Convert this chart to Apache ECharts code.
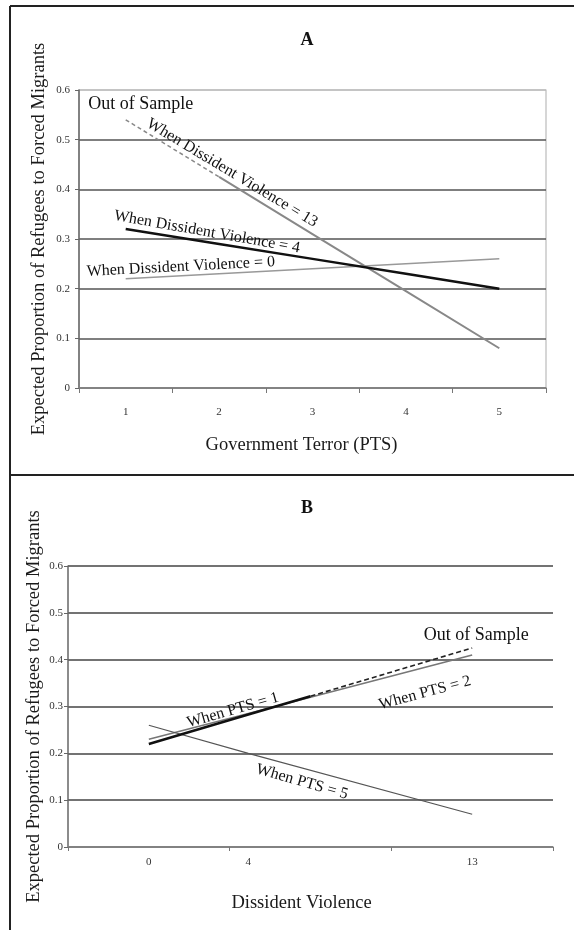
<!DOCTYPE html>
<html>
<head>
<meta charset="utf-8">
<script src="https://cdn.jsdelivr.net/npm/echarts@6/dist/echarts.min.js"></script>
<style>
html,body{margin:0;padding:0;background:#fff;}
#c{width:574px;height:930px;}
</style>
</head>
<body>
<div id="c"></div>
<script>
// ---------- Panel A data ----------
const ptsCats = [1, 2, 3, 4, 5];
const dv13 = [0.54, 0.425, 0.31, 0.195, 0.08];
const dv4  = [0.32, 0.29, 0.26, 0.23, 0.20];
const dv0  = [0.22, 0.23, 0.24, 0.25, 0.26];
const dv13InSampleFromIndex = 1; // out of sample for PTS 1 -> 2
const yTicks = [0, 0.1, 0.2, 0.3, 0.4, 0.5, 0.6];

// ---------- Panel B data ----------
const dvCats = [0, 4, 13];
const pts1InSample = [[0, 0.22], [4, 0.283], [6.5, 0.322]];
const pts1OutSample = [[6.5, 0.322], [13, 0.425]];
const pts2 = [0.23, 0.285, 0.41];
const pts5 = [0.26, 0.20, 0.07];

// annotation anchors (data coords)
const labelsA = [
  {text: 'When Dissident Violence = 13', x: 2.14, y: 0.433, rot: -31},
  {text: 'When Dissident Violence = 4', x: 1.87, y: 0.314, rot: -10},
  {text: 'When Dissident Violence = 0', x: 1.59, y: 0.244, rot: 3},
  {text: 'Out of Sample', x: 1.16, y: 0.572, rot: 0}
];
const labelsB = [
  {text: 'When PTS = 1', x: 3.38, y: 0.292, rot: 16},
  {text: 'When PTS = 2', x: 11.1, y: 0.329, rot: 15},
  {text: 'When PTS = 5', x: 6.16, y: 0.139, rot: -16},
  {text: 'Out of Sample', x: 13.16, y: 0.453, rot: 0}
];

const FONT = "'Liberation Serif', 'DejaVu Serif', serif";
const zip = (xs, ys) => xs.map((x, i) => [x, ys[i]]);

function yAxisCfg(gridIndex, gap, splitColors, labelMargin) {
  return {
    gridIndex, type: 'value', min: 0, max: 0.6, interval: 0.1,
    name: 'Expected Proportion of Refugees to Forced Migrants',
    nameLocation: 'middle', nameGap: gap, nameRotate: 90, nameMoveOverlap: false,
    nameTextStyle: {fontFamily: FONT, fontSize: 18.5, color: '#1a1a1a'},
    axisLine: {show: true, onZero: false, lineStyle: {color: '#666', width: 1.5}},
    axisTick: {show: true, length: 4, lineStyle: {color: '#666'}},
    axisLabel: {fontFamily: FONT, fontSize: 11, color: '#333', margin: labelMargin,
      formatter: v => v === 0 ? '0' : v.toFixed(1)},
    splitLine: {show: true, lineStyle: {color: splitColors, width: 1.6}}
  };
}

const labelSeries = (labels, xi, yi) => ({
  type: 'scatter', xAxisIndex: xi, yAxisIndex: yi, symbolSize: 0, silent: true,
  itemStyle: {opacity: 1},
  data: labels.map(l => ({value: [l.x, l.y], name: l.text,
    label: {show: true, position: 'inside', rotate: l.rot, formatter: l.text,
      fontFamily: FONT, fontSize: l.rot === 0 ? 18 : 16, color: '#111', opacity: 1,
      textBorderWidth: 0, textShadowBlur: 0}})),
  z: 5
});

const dv13Points = zip(ptsCats, dv13);

const option = {
  backgroundColor: '#fff',
  animation: false,
  grid: [
    {left: 79, right: 28, top: 90, bottom: 542, show: true, borderColor: '#bbb', borderWidth: 1.2},
    {left: 68, right: 21, top: 566, bottom: 83}
  ],
  xAxis: [
    {
      gridIndex: 0, type: 'value', min: 0.5, max: 5.5,
      name: 'Government Terror (PTS)', nameLocation: 'middle', nameGap: 48, nameMoveOverlap: false,
      nameTextStyle: {fontFamily: FONT, fontSize: 18.5, color: '#1a1a1a', padding: [0, 22, 0, 0]},
      axisLine: {show: true, onZero: false, lineStyle: {color: '#888', width: 1.5}},
      axisTick: {show: true, length: 5, lineStyle: {color: '#777'},
        customValues: [0.5, 1.5, 2.5, 3.5, 4.5, 5.5]},
      axisLabel: {fontFamily: FONT, fontSize: 11, color: '#333', margin: 19,
        customValues: ptsCats},
      splitLine: {show: false}
    },
    {
      gridIndex: 1, type: 'value', min: -3.25, max: 16.25,
      name: 'Dissident Violence', nameLocation: 'middle', nameGap: 47, nameMoveOverlap: false,
      nameTextStyle: {fontFamily: FONT, fontSize: 18.5, color: '#1a1a1a', padding: [0, 18, 0, 0]},
      axisLine: {show: true, onZero: false, lineStyle: {color: '#888', width: 1.5}},
      axisTick: {show: true, length: 4, lineStyle: {color: '#777'},
        customValues: [-3.25, 3.25, 9.75, 16.25]},
      axisLabel: {fontFamily: FONT, fontSize: 11, color: '#333', margin: 10,
        customValues: dvCats},
      splitLine: {show: false}
    }
  ],
  yAxis: [
    yAxisCfg(0, 30, ['#555', '#555', '#555', '#555', '#555', '#555', '#bbb'], 9),
    yAxisCfg(1, 24, ['#444'], 5)
  ],
  series: [
    // Panel A
    {type: 'line', xAxisIndex: 0, yAxisIndex: 0, symbol: 'none',
      data: dv13Points.slice(0, dv13InSampleFromIndex + 1),
      lineStyle: {color: '#888', width: 1.5, type: [4, 3]}, z: 3},
    {type: 'line', xAxisIndex: 0, yAxisIndex: 0, symbol: 'none',
      data: dv13Points.slice(dv13InSampleFromIndex),
      lineStyle: {color: '#888', width: 2}, z: 3},
    {type: 'line', xAxisIndex: 0, yAxisIndex: 0, symbol: 'none',
      data: zip(ptsCats, dv4), lineStyle: {color: '#111', width: 2.5}, z: 4},
    {type: 'line', xAxisIndex: 0, yAxisIndex: 0, symbol: 'none',
      data: zip(ptsCats, dv0), lineStyle: {color: '#999', width: 1.5}, z: 3},
    labelSeries(labelsA, 0, 0),
    // Panel B
    {type: 'line', xAxisIndex: 1, yAxisIndex: 1, symbol: 'none',
      data: zip(dvCats, pts2), lineStyle: {color: '#777', width: 1.6}, z: 3},
    {type: 'line', xAxisIndex: 1, yAxisIndex: 1, symbol: 'none',
      data: pts1InSample, lineStyle: {color: '#111', width: 2.6}, z: 4},
    {type: 'line', xAxisIndex: 1, yAxisIndex: 1, symbol: 'none',
      data: pts1OutSample, lineStyle: {color: '#222', width: 1.6, type: [5, 3]}, z: 4},
    {type: 'line', xAxisIndex: 1, yAxisIndex: 1, symbol: 'none',
      data: zip(dvCats, pts5), lineStyle: {color: '#555', width: 1.2}, z: 3},
    labelSeries(labelsB, 1, 1)
  ],
  graphic: [
    {type: 'line', shape: {x1: 10, y1: 6, x2: 574, y2: 6}, style: {stroke: '#222', lineWidth: 2}},
    {type: 'line', shape: {x1: 10, y1: 6, x2: 10, y2: 930}, style: {stroke: '#222', lineWidth: 2}},
    {type: 'line', shape: {x1: 10, y1: 475, x2: 574, y2: 475}, style: {stroke: '#222', lineWidth: 2}},
    {type: 'text', x: 307, y: 40, style: {text: 'A', font: "bold 18px 'Liberation Serif', serif", fill: '#111', textAlign: 'center', textVerticalAlign: 'middle'}},
    {type: 'text', x: 307, y: 508, style: {text: 'B', font: "bold 18px 'Liberation Serif', serif", fill: '#111', textAlign: 'center', textVerticalAlign: 'middle'}}
  ]
};

const chart = echarts.init(document.getElementById('c'), null, {renderer: 'canvas'});
chart.setOption(option);
</script>
</body>
</html>
